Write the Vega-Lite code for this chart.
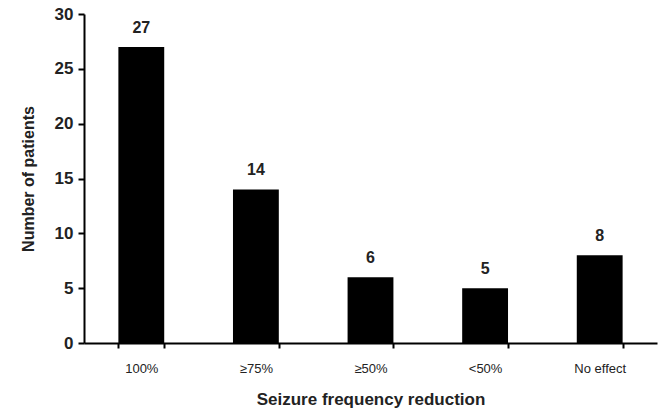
{
  "$schema": "https://vega.github.io/schema/vega-lite/v6.json",
  "width": 573,
  "height": 329,
  "autosize": {"type": "none"},
  "padding": {"left": 84, "top": 14, "right": 13, "bottom": 68},
  "background": "white",
  "config": {"view": {"stroke": null}, "font": "Liberation Sans"},
  "data": {"values": [
    {"category": "100%", "patients": 27},
    {"category": "≥75%", "patients": 14},
    {"category": "≥50%", "patients": 6},
    {"category": "<50%", "patients": 5},
    {"category": "No effect", "patients": 8}
  ]},
  "encoding": {
    "x": {
      "field": "category", "type": "nominal", "sort": null,
      "scale": {"paddingInner": 0.6, "paddingOuter": 0.3},
      "axis": {
        "title": "Seizure frequency reduction",
        "titleFontSize": 17, "titleFontWeight": "bold", "titleColor": "#222", "titlePadding": 16,
        "labelAngle": 0, "labelFontSize": 13, "labelColor": "#222", "labelPadding": 14,
        "tickBand": "extent", "tickColor": "black", "tickSize": 5, "tickWidth": 2,
        "domainColor": "black", "domainWidth": 2
      }
    },
    "y": {
      "field": "patients", "type": "quantitative",
      "scale": {"domain": [0, 30], "nice": false},
      "axis": {
        "title": "Number of patients", "values": [0, 5, 10, 15, 20, 25, 30],
        "titleFontSize": 16, "titleFontWeight": "bold", "titleColor": "#222", "titlePadding": 18,
        "labelFontSize": 17, "labelFontWeight": "bold", "labelColor": "#222", "labelPadding": 5,
        "grid": false, "tickColor": "black", "tickSize": 6, "tickWidth": 2,
        "domainColor": "black", "domainWidth": 2
      }
    }
  },
  "layer": [
    {"mark": {"type": "bar", "color": "black"}},
    {"mark": {"type": "text", "dy": -19, "fontSize": 16, "fontWeight": "bold", "color": "#222"},
     "encoding": {"text": {"field": "patients", "type": "quantitative"}}}
  ]
}
